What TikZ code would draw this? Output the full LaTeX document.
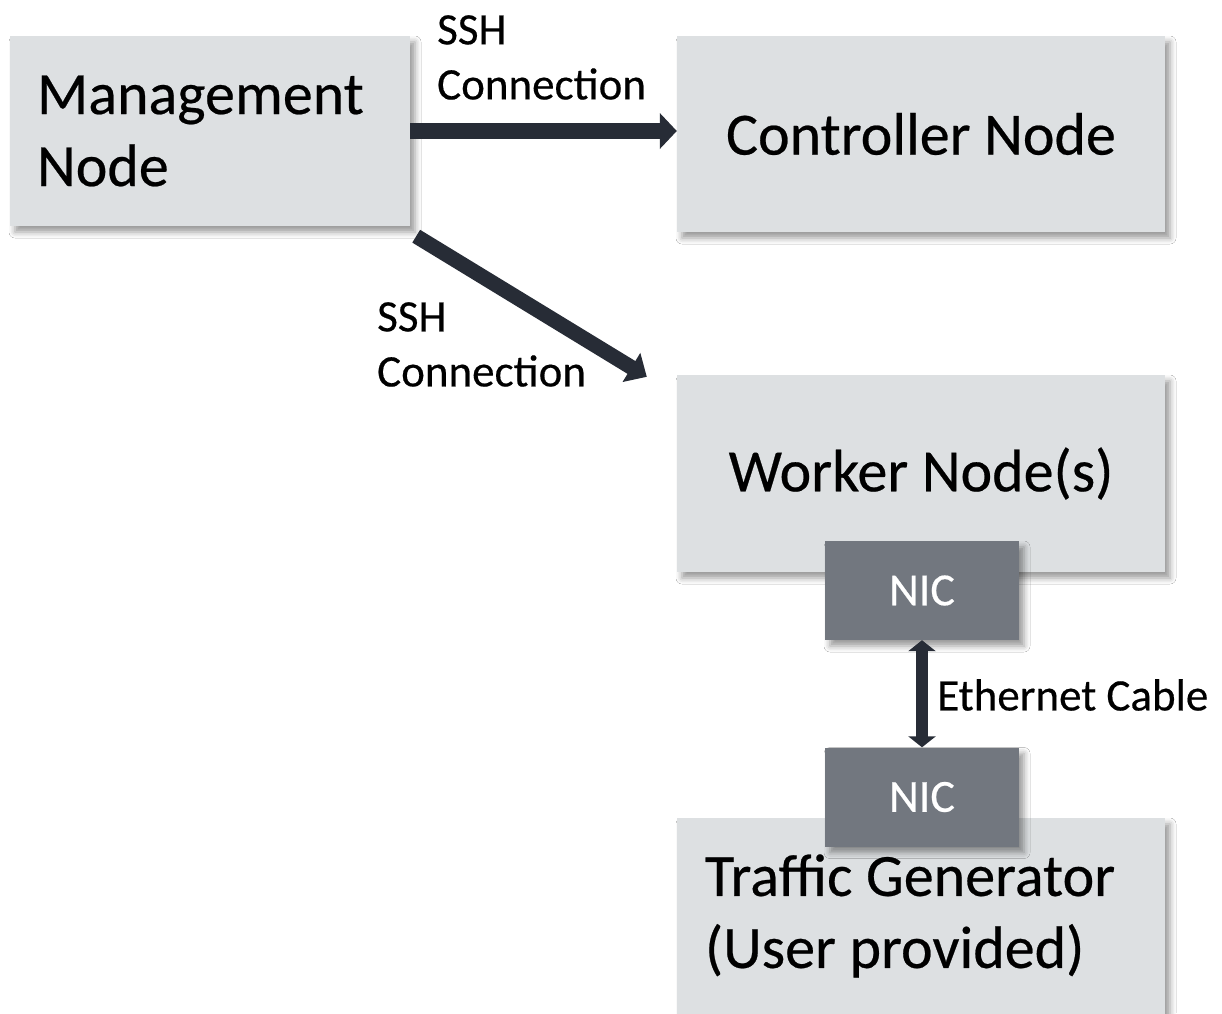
\documentclass[tikz,border=0pt]{standalone}
\usepackage{fontspec}
\setmainfont{Carlito}[FakeBold=0.4]
\usetikzlibrary{arrows.meta,shadows.blur}
\definecolor{boxfill}{HTML}{DDE0E2}
\definecolor{nicfill}{HTML}{72777F}
\definecolor{arrowc}{HTML}{272C36}
\begin{document}
\begin{tikzpicture}[x=1pt,y=-1pt,
  box/.style={fill=boxfill, draw=none, inner sep=0pt,
    blur shadow={shadow xshift=5pt, shadow yshift=-6pt, shadow opacity=40, shadow blur radius=6pt},
    font=\fontsize{60}{72}\selectfont},
  nic/.style={fill=nicfill, draw=none, inner sep=0pt, text=white,
    minimum width=194pt, minimum height=99pt,
    blur shadow={shadow xshift=5pt, shadow yshift=-6pt, shadow opacity=40, shadow blur radius=6pt},
    font=\fontsize{46}{55}\selectfont},
  lbl/.style={inner sep=0pt, align=flush left, font=\fontsize{45}{55}\selectfont},
  conn/.style={draw=arrowc, line width=#1},
]
\fill[white] (0,0) rectangle (1222,1013);
\useasboundingbox (0,0) rectangle (1222,1013);

% main boxes
\node[box, minimum width=400pt, minimum height=190pt, text width=346pt, align=flush left] (mgmt) at (210,131) {Management\\Node};
\node[box, minimum width=488pt, minimum height=196pt] (ctrl) at (921,134) {Controller Node};
\node[box, minimum width=488pt, minimum height=197pt] (wk) at (921,473.5) {Worker Node(s)};
\node[box, minimum width=488pt, minimum height=196pt, text width=432pt, align=flush left] (tg) at (921,916) {Traffic Generator\\(User provided)};

% network interface cards
\node[nic] (nicw) at (922,590.5) {NIC};
\node[nic] (nict) at (922,797) {NIC};

% connectors
\draw[conn=16pt, -{Triangle[width=35pt,length=17pt]}] (mgmt.east) -- (mgmt.east -| ctrl.west);
\draw[conn=15pt, -{Triangle[width=33pt,length=18pt]}] ([shift={(6,10)}]mgmt.south east) -- ([shift={(-30,2)}]wk.north west);
\draw[conn=12pt, {Triangle[width=27pt,length=11pt]}-{Triangle[width=27pt,length=11pt]}] (nicw.south) -- (nict.north);

% connector labels
\node[lbl, anchor=north west] (ssh1) at (437,15) {SSH\\Connection};
\node[lbl, anchor=north west] (ssh2) at (377,302) {SSH\\Connection};
\node[lbl, anchor=north west, font=\fontsize{45}{50}\selectfont] (eth) at (937,679) {Ethernet Cable};
\end{tikzpicture}
\end{document}
